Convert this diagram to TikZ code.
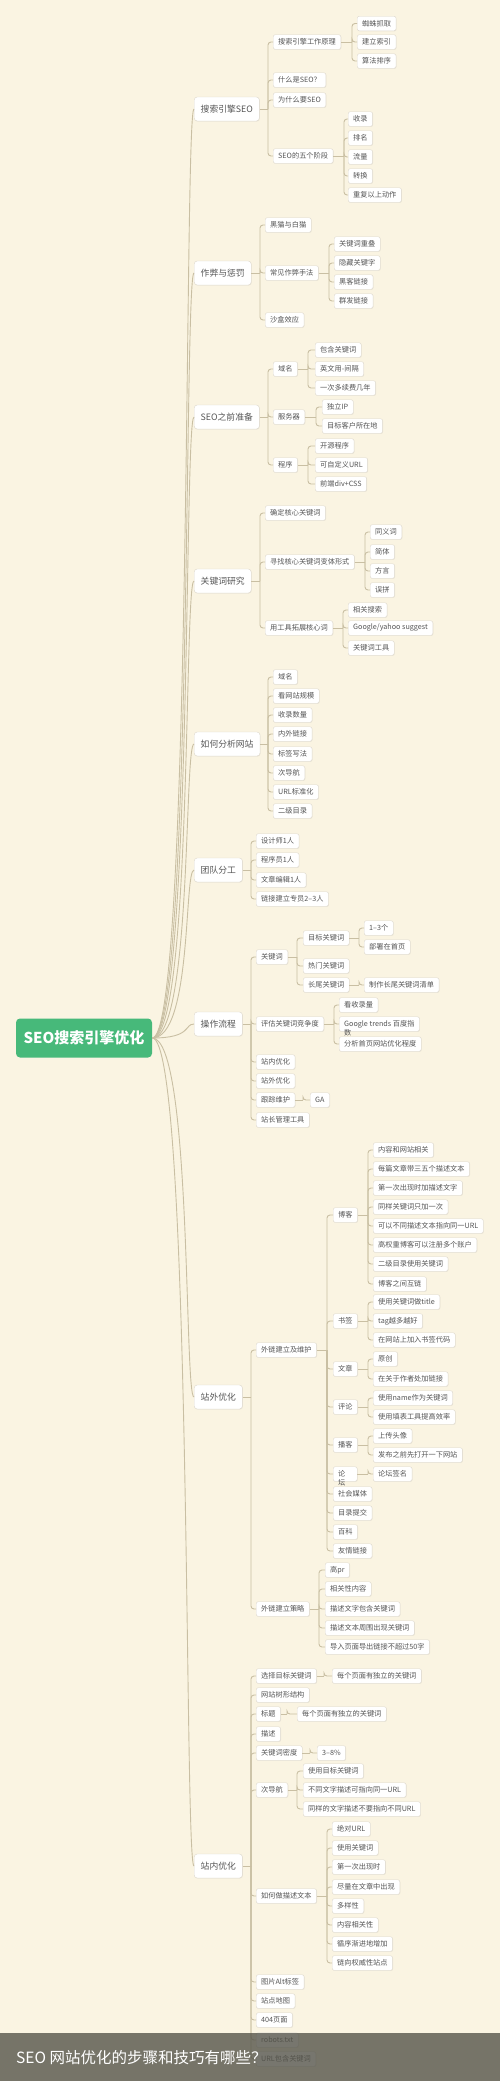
\documentclass[tikz,border=0pt]{standalone}
\usepackage{fontspec}
\setmainfont{Noto Sans CJK SC}
\usetikzlibrary{shadows}
\definecolor{bg}{HTML}{FAF4E2}
\definecolor{lnc}{HTML}{C9BFA3}
\definecolor{bdc}{HTML}{DDD8CC}
\definecolor{txc}{HTML}{555555}
\definecolor{grn}{HTML}{47B97A}
\definecolor{band}{HTML}{55544A}
\tikzset{
  conn/.style={draw=lnc, line width=0.9pt, rounded corners=3pt},
  l2/.style={draw=bdc, fill=white, rounded corners=2pt, text=txc, font=\fontsize{7.2}{8.5}\selectfont,
    inner xsep=5pt, inner ysep=0pt, minimum height=14.5pt, anchor=west,
    drop shadow={opacity=0.12, shadow xshift=0.5pt, shadow yshift=-0.6pt}},
  l1/.style={l2, rounded corners=3pt, font=\fontsize{8.8}{10}\selectfont, inner xsep=6.5pt, minimum height=24pt},
  rootbox/.style={fill=grn, text=white, rounded corners=4pt, font=\fontsize{15}{17}\selectfont\bfseries,
    minimum width=136pt, minimum height=39pt, inner sep=0pt},
  lbl/.style={text=txc, font=\fontsize{7.2}{8.5}\selectfont, inner sep=0pt}
}
\newcommand\nd[5]{\node[#1] (#2) at (#3,#4) {#5};}
\newcommand\br[3]{%
  \coordinate (tk) at (#2,0);
  \draw[conn] (#1.east) -- (#1.east -| tk);
  \foreach \c in {#3} {\draw[conn] (#1.east -| tk) |- (\c.west);}
}
\begin{document}
\begin{tikzpicture}[x=1pt,y=-1pt]
\fill[bg] (0,0) rectangle (500,2081);
\useasboundingbox (0,0) rectangle (500,2081);

% root
\node[rootbox] (root) at (84,1038) {SEO搜索引擎优化};

% level 1
\nd{l1}{A}{194}{109}{搜索引擎SEO}
\nd{l1}{B}{194}{273}{作弊与惩罚}
\nd{l1}{C}{194}{417}{SEO之前准备}
\nd{l1}{D}{194}{581}{关键词研究}
\nd{l1}{E}{194}{744}{如何分析网站}
\nd{l1}{F}{194}{870}{团队分工}
\nd{l1}{G}{194}{1024}{操作流程}
\nd{l1}{H}{194}{1397}{站外优化}
\nd{l1}{I}{194}{1866}{站内优化}

% A
\nd{l2}{A1}{273}{42}{搜索引擎工作原理}
\nd{l2}{A2}{273}{80}{什么是SEO？}
\nd{l2}{A3}{273}{100}{为什么要SEO}
\nd{l2}{A4}{273}{156}{SEO的五个阶段}
\nd{l2}{A1a}{357}{23.5}{蜘蛛抓取}
\nd{l2}{A1b}{357}{42}{建立索引}
\nd{l2}{A1c}{357}{61}{算法排序}
\nd{l2}{A4a}{348}{119}{收录}
\nd{l2}{A4b}{348}{138}{排名}
\nd{l2}{A4c}{348}{157}{流量}
\nd{l2}{A4d}{348}{176}{转换}
\nd{l2}{A4e}{348}{195}{重复以上动作}

% B
\nd{l2}{B1}{265}{225}{黑猫与白猫}
\nd{l2}{B2}{265}{273}{常见作弊手法}
\nd{l2}{B3}{265}{320}{沙盒效应}
\nd{l2}{B2a}{334}{244}{关键词重叠}
\nd{l2}{B2b}{334}{263}{隐藏关键字}
\nd{l2}{B2c}{334}{282}{黑客链接}
\nd{l2}{B2d}{334}{301}{群发链接}

% C
\nd{l2}{C1}{273}{369}{域名}
\nd{l2}{C2}{273}{417}{服务器}
\nd{l2}{C3}{273}{465}{程序}
\nd{l2}{C1a}{315}{350}{包含关键词}
\nd{l2}{C1b}{315}{369}{英文用-间隔}
\nd{l2}{C1c}{315}{388}{一次多续费几年}
\nd{l2}{C2a}{322}{407}{独立IP}
\nd{l2}{C2b}{322}{426}{目标客户所在地}
\nd{l2}{C3a}{315}{446}{开源程序}
\nd{l2}{C3b}{315}{465}{可自定义URL}
\nd{l2}{C3c}{315}{484}{前端div+CSS}

% D
\nd{l2}{D1}{265}{513}{确定核心关键词}
\nd{l2}{D2}{265}{562}{寻找核心关键词变体形式}
\nd{l2}{D3}{265}{628}{用工具拓展核心词}
\nd{l2}{D2a}{370}{532}{同义词}
\nd{l2}{D2b}{370}{552}{简体}
\nd{l2}{D2c}{370}{571}{方言}
\nd{l2}{D2d}{370}{590}{误拼}
\nd{l2}{D3a}{348}{610}{相关搜索}
\nd{l2}{D3b}{348}{628}{Google/yahoo suggest}
\nd{l2}{D3c}{348}{648}{关键词工具}

% E
\nd{l2}{E1}{273}{677}{域名}
\nd{l2}{E2}{273}{696}{看网站规模}
\nd{l2}{E3}{273}{715}{收录数量}
\nd{l2}{E4}{273}{734}{内外链接}
\nd{l2}{E5}{273}{754}{标签写法}
\nd{l2}{E6}{273}{773}{次导航}
\nd{l2}{E7}{273}{792}{URL标准化}
\nd{l2}{E8}{273}{811}{二级目录}

% F
\nd{l2}{F1}{256}{841}{设计师1人}
\nd{l2}{F2}{256}{860}{程序员1人}
\nd{l2}{F3}{256}{880}{文章编辑1人}
\nd{l2}{F4}{256}{899}{链接建立专员2--3人}

% G
\nd{l2}{G1}{256}{957}{关键词}
\nd{l2}{G2}{256}{1024}{评估关键词竞争度}
\nd{l2}{G3}{256}{1062}{站内优化}
\nd{l2}{G4}{256}{1081}{站外优化}
\nd{l2}{G5}{256}{1100}{跟踪维护}
\nd{l2}{G6}{256}{1120}{站长管理工具}
\nd{l2}{G1a}{303}{938}{目标关键词}
\nd{l2}{G1b}{303}{966}{热门关键词}
\nd{l2}{G1c}{303}{985}{长尾关键词}
\nd{l2}{G1aa}{364}{928}{1--3个}
\nd{l2}{G1ab}{364}{947}{部署在首页}
\nd{l2}{G1ca}{364}{985}{制作长尾关键词清单}
\nd{l2}{G2a}{339}{1005}{看收录量}
\node[l2, label={[lbl,anchor=north west,xshift=5pt,yshift=2.5pt]south west:数}] (G2b) at (339,1024) {Google trends 百度指};
\nd{l2}{G2c}{339}{1044}{分析首页网站优化程度}
\nd{l2}{G5a}{310}{1100}{GA}

% H
\nd{l2}{H1}{256}{1350}{外链建立及维护}
\nd{l2}{H2}{256}{1609}{外链建立策略}
\nd{l2}{H1a}{333}{1215}{博客}
\nd{l2}{H1b}{333}{1321}{书签}
\nd{l2}{H1c}{333}{1369}{文章}
\nd{l2}{H1d}{333}{1407}{评论}
\nd{l2}{H1e}{333}{1445}{播客}
\node[l2, text width=14pt, align=left, label={[lbl,anchor=north west,xshift=5pt,yshift=2.5pt]south west:坛}] (H1f) at (333,1474) {论};
\nd{l2}{H1g}{333}{1494}{社会媒体}
\nd{l2}{H1h}{333}{1513}{目录提交}
\nd{l2}{H1i}{333}{1532}{百科}
\nd{l2}{H1j}{333}{1551}{友情链接}
\nd{l2}{H1a1}{373}{1150}{内容和网站相关}
\nd{l2}{H1a2}{373}{1169}{每篇文章带三五个描述文本}
\nd{l2}{H1a3}{373}{1188}{第一次出现时加描述文字}
\nd{l2}{H1a4}{373}{1207}{同样关键词只加一次}
\nd{l2}{H1a5}{373}{1226}{可以不同描述文本指向同一URL}
\nd{l2}{H1a6}{373}{1245}{高权重博客可以注册多个账户}
\nd{l2}{H1a7}{373}{1264}{二级目录使用关键词}
\nd{l2}{H1a8}{373}{1284}{博客之间互链}
\nd{l2}{H1b1}{373}{1302}{使用关键词做title}
\nd{l2}{H1b2}{373}{1321}{tag越多越好}
\nd{l2}{H1b3}{373}{1340}{在网站上加入书签代码}
\nd{l2}{H1c1}{373}{1359}{原创}
\nd{l2}{H1c2}{373}{1379}{在关于作者处加链接}
\nd{l2}{H1d1}{373}{1398}{使用name作为关键词}
\nd{l2}{H1d2}{373}{1417}{使用填表工具提高效率}
\nd{l2}{H1e1}{373}{1436}{上传头像}
\nd{l2}{H1e2}{373}{1455}{发布之前先打开一下网站}
\nd{l2}{H1f1}{373}{1474}{论坛签名}
\nd{l2}{H2a}{325}{1570}{高pr}
\nd{l2}{H2b}{325}{1589}{相关性内容}
\nd{l2}{H2c}{325}{1609}{描述文字包含关键词}
\nd{l2}{H2d}{325}{1628}{描述文本周围出现关键词}
\nd{l2}{H2e}{325}{1647}{导入页面导出链接不超过50字}

% I
\nd{l2}{I1}{256}{1676}{选择目标关键词}
\nd{l2}{I2}{256}{1695}{网站树形结构}
\nd{l2}{I3}{256}{1714}{标题}
\nd{l2}{I4}{256}{1734}{描述}
\nd{l2}{I5}{256}{1753}{关键词密度}
\nd{l2}{I6}{256}{1790}{次导航}
\nd{l2}{I7}{256}{1896}{如何做描述文本}
\nd{l2}{I8}{256}{1982}{图片Alt标签}
\nd{l2}{I9}{256}{2001}{站点地图}
\nd{l2}{I10}{256}{2020}{404页面}
\nd{l2}{I11}{256}{2040}{robots.txt}
\nd{l2}{I12}{256}{2059}{URL包含关键词}
\nd{l2}{I1a}{332}{1676}{每个页面有独立的关键词}
\nd{l2}{I3a}{297}{1714}{每个页面有独立的关键词}
\nd{l2}{I5a}{317}{1753}{3--8\%}
\nd{l2}{I6a}{303}{1771}{使用目标关键词}
\nd{l2}{I6b}{303}{1790}{不同文字描述可指向同一URL}
\nd{l2}{I6c}{303}{1809}{同样的文字描述不要指向不同URL}
\nd{l2}{I7a}{332}{1829}{绝对URL}
\nd{l2}{I7b}{332}{1848}{使用关键词}
\nd{l2}{I7c}{332}{1867}{第一次出现时}
\nd{l2}{I7d}{332}{1887}{尽量在文章中出现}
\nd{l2}{I7e}{332}{1906}{多样性}
\nd{l2}{I7f}{332}{1925}{内容相关性}
\nd{l2}{I7g}{332}{1944}{循序渐进地增加}
\nd{l2}{I7h}{332}{1963}{链向权威性站点}

% root connectors
\foreach \n in {A,B,C,D,E,F,G,H,I}
  \draw[draw=lnc, line width=0.9pt] (root.east) .. controls +(40,0) and +(-10,0) .. (\n.west);

% tree connectors
\br{A}{268}{A1,A2,A3,A4}
\br{A1}{352}{A1a,A1b,A1c}
\br{A4}{344}{A4a,A4b,A4c,A4d,A4e}
\br{B}{260}{B1,B2,B3}
\br{B2}{329}{B2a,B2b,B2c,B2d}
\br{C}{268}{C1,C2,C3}
\br{C1}{308}{C1a,C1b,C1c}
\br{C2}{316}{C2a,C2b}
\br{C3}{308}{C3a,C3b,C3c}
\br{D}{260}{D1,D2,D3}
\br{D2}{365}{D2a,D2b,D2c,D2d}
\br{D3}{343}{D3a,D3b,D3c}
\br{E}{268}{E1,E2,E3,E4,E5,E6,E7,E8}
\br{F}{251}{F1,F2,F3,F4}
\br{G}{251}{G1,G2,G3,G4,G5,G6}
\br{G1}{297}{G1a,G1b,G1c}
\br{G1a}{359}{G1aa,G1ab}
\br{G1c}{359}{G1ca}
\br{G2}{334}{G2a,G2b,G2c}
\br{G5}{303}{G5a}
\br{H}{251}{H1,H2}
\br{H1}{327}{H1a,H1b,H1c,H1d,H1e,H1f,H1g,H1h,H1i,H1j}
\br{H1a}{368}{H1a1,H1a2,H1a3,H1a4,H1a5,H1a6,H1a7,H1a8}
\br{H1b}{368}{H1b1,H1b2,H1b3}
\br{H1c}{368}{H1c1,H1c2}
\br{H1d}{368}{H1d1,H1d2}
\br{H1e}{368}{H1e1,H1e2}
\br{H1f}{368}{H1f1}
\br{H2}{319}{H2a,H2b,H2c,H2d,H2e}
\br{I}{251}{I1,I2,I3,I4,I5,I6,I7,I8,I9,I10,I11,I12}
\br{I1}{324}{I1a}
\br{I3}{287}{I3a}
\br{I5}{310}{I5a}
\br{I6}{297}{I6a,I6b,I6c}
\br{I7}{327}{I7a,I7b,I7c,I7d,I7e,I7f,I7g,I7h}

% caption band
\fill[band, opacity=0.8] (0,2033) rectangle (500,2081);
\node[anchor=west, text=white, font=\fontsize{15.5}{17}\selectfont, inner sep=0pt] (cap) at (16,2058) {SEO\ 网站优化的步骤和技巧有哪些？};
\end{tikzpicture}
\end{document}
